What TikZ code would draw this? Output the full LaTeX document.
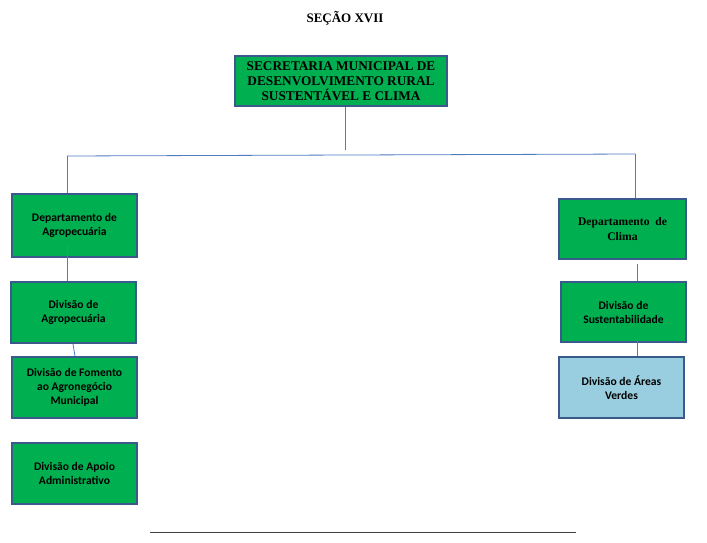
\documentclass[tikz,border=0pt]{standalone}
\usepackage{fontspec}
\setmainfont{Liberation Serif}
\newfontfamily\carlitofont{Carlito}
\definecolor{boxgreen}{HTML}{00B050}
\definecolor{boxblue}{HTML}{98CEE0}
\definecolor{boxedge}{HTML}{3A5A8C}
\definecolor{linkblue}{HTML}{4F7BC0}
\begin{document}
\begin{tikzpicture}[x=1pt,y=-1pt,
  orgbox/.style={draw=boxedge,line width=1.8pt,fill=boxgreen,align=center,inner sep=0pt},
  link/.style={draw=linkblue,line width=0.8pt},
  sansbox/.style={font=\carlitofont\bfseries\fontsize{11.6}{14}\selectfont},
  serifbox/.style={font=\bfseries\fontsize{11.6}{15}\selectfont}]
\useasboundingbox (0,0) rectangle (707,543);
\node[font=\bfseries\fontsize{13}{15}\selectfont] (title) at (345,18) {SEÇÃO XVII};
\node[orgbox,minimum width=212pt,minimum height=50pt,font=\bfseries\fontsize{13.3}{15}\selectfont] (sec) at (341,81) {SECRETARIA MUNICIPAL DE\\DESENVOLVIMENTO RURAL\\SUSTENTÁVEL E CLIMA};
\node[orgbox,sansbox,minimum width=125pt,minimum height=63pt] (deptA) at (74.5,225.5) {Departamento de\\Agropecuária};
\node[orgbox,sansbox,minimum width=125pt,minimum height=61pt] (divA) at (73.5,312.5) {Divisão de\\Agropecuária};
\node[orgbox,sansbox,minimum width=125pt,minimum height=61pt] (divF) at (74.5,387.5) {Divisão de Fomento\\ao Agronegócio\\Municipal};
\node[orgbox,sansbox,minimum width=125pt,minimum height=61pt] (divP) at (74.5,473.5) {Divisão de Apoio\\Administrativo};
\node[orgbox,serifbox,minimum width=127pt,minimum height=60pt] (deptC) at (622.5,229) {Departamento\ \ de\\Clima};
\node[orgbox,sansbox,minimum width=125pt,minimum height=60pt] (divS) at (623.5,312) {Divisão de\\Sustentabilidade};
\node[orgbox,sansbox,fill=boxblue,minimum width=125pt,minimum height=61pt] (divV) at (621.5,387.5) {Divisão de Áreas\\Verdes};
\coordinate (jL) at (67,156);
\coordinate (jR) at (635.7,154);
\coordinate (jM) at (345,150);
\coordinate (xR) at (637,0);
\draw[link] (sec.south -| jM) -- (jM);
\draw[link] (jL) -- (jR);
\draw[link] (jL) -- (jL |- deptA.north);
\draw[link] (jR) -- (jR |- deptC.north);
\draw[link] ([yshift=14pt]deptA.south -| jL) -- (jL |- divA.north);
\draw[link] ([xshift=-0.5pt]divA.south) -- ([xshift=0.5pt]divF.north);
\draw[link] ([yshift=-4pt]deptC.south -| xR) -- (xR |- divS.north);
\draw[link] ([yshift=4pt]divS.south -| xR) -- (xR |- divV.north);
\coordinate (b1) at (150,532);
\coordinate (b2) at (576,532);
\draw[line width=1pt,draw=black!75] (b1) -- (b2);
\end{tikzpicture}
\end{document}
